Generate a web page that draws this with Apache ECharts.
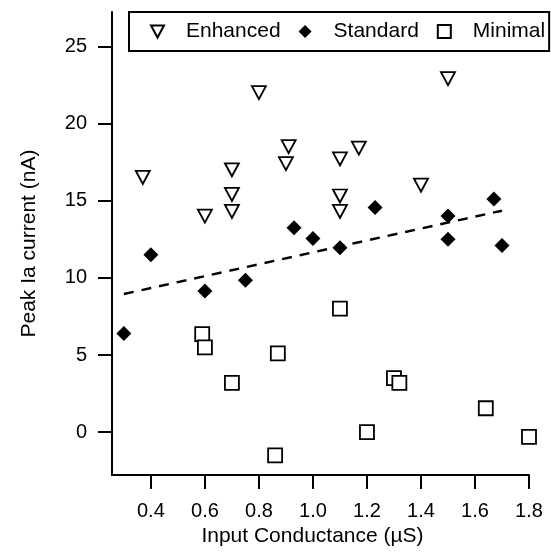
<!doctype html>
<html>
<head>
<meta charset="UTF-8">
<title>Peak Ia current vs input conductance</title>
<script src="https://cdn.jsdelivr.net/npm/echarts@6/dist/echarts.min.js"></script>
<style>
  html, body { margin: 0; padding: 0; background: #fff; }
  #chart { width: 551px; height: 552px; }
</style>
</head>
<body>
<div id="chart"></div>
<script>
// values: [conductance uS, peak current nA]
var enhanced = [
  [0.37, 16.5], [0.60, 14.0], [0.70, 17.0], [0.70, 15.4], [0.70, 14.3],
  [0.80, 22.0], [0.91, 18.5], [0.90, 17.4], [1.10, 17.7], [1.17, 18.4],
  [1.10, 15.3], [1.10, 14.3], [1.40, 16.0], [1.50, 22.9]
];
var standard = [
  [0.30, 6.4], [0.40, 11.5], [0.60, 9.15], [0.75, 9.85], [0.93, 13.25],
  [1.00, 12.55], [1.10, 11.95], [1.23, 14.55], [1.50, 14.0], [1.50, 12.5],
  [1.67, 15.1], [1.70, 12.1]
];
var minimal = [
  [0.59, 6.35], [0.60, 5.5], [0.87, 5.1], [0.70, 3.2], [0.86, -1.5],
  [1.10, 8.0], [1.30, 3.5], [1.32, 3.2], [1.20, 0.0], [1.64, 1.55],
  [1.80, -0.3]
];
var fitLine = [[0.30, 8.95], [1.70, 14.35]];
var xTicks = [0.4, 0.6, 0.8, 1.0, 1.2, 1.4, 1.6, 1.8];
var yTicks = [0, 5, 10, 15, 20, 25];

var font = 'Liberation Sans, Arial, Helvetica, sans-serif';
var downTriangle = 'path://M0,0L14,0L7,13Z';
var chart = echarts.init(document.getElementById('chart'));

chart.setOption({
  animation: false,
  textStyle: { fontFamily: font, color: '#000' },
  grid: { left: 112, right: 22, top: 12, bottom: 76, containLabel: false },
  legend: {
    left: 129,
    top: 12,
    width: 420,
    padding: [9, 4, 9, 21],
    itemWidth: 13,
    itemHeight: 13,
    itemGap: 18,
    symbolKeepAspect: true,
    borderColor: '#000',
    borderWidth: 2,
    textStyle: { fontFamily: font, fontSize: 21, color: '#000', padding: [0, 0, 0, 17] },
    data: [
      { name: 'Enhanced', icon: downTriangle },
      { name: 'Standard', icon: 'diamond' },
      { name: 'Minimal', icon: 'rect' }
    ]
  },
  xAxis: {
    type: 'value',
    min: 0.256,
    max: 1.8,
    name: 'Input Conductance (\u00b5S)',
    nameLocation: 'middle',
    nameGap: 50,
    nameTextStyle: { fontFamily: font, fontSize: 21, color: '#000', padding: [0, 16, 0, 0] },
    splitLine: { show: false },
    axisLine: { show: true, onZero: false, lineStyle: { color: '#000', width: 2 } },
    axisTick: { show: true, inside: false, length: 14, customValues: xTicks, lineStyle: { color: '#000', width: 2 } },
    axisLabel: {
      customValues: xTicks, margin: 26, fontSize: 20, color: '#000', fontFamily: font,
      formatter: function (v) { return v.toFixed(1); }
    }
  },
  yAxis: {
    type: 'value',
    min: -2.78,
    max: 27.22,
    name: 'Peak Ia current (nA)',
    nameLocation: 'middle',
    nameGap: 72,
    nameTextStyle: { fontFamily: font, fontSize: 21, color: '#000' },
    splitLine: { show: false },
    axisLine: { show: true, onZero: false, lineStyle: { color: '#000', width: 2 } },
    axisTick: { show: true, inside: false, length: 14, customValues: yTicks, lineStyle: { color: '#000', width: 2 } },
    axisLabel: { customValues: yTicks, margin: 25, fontSize: 20, color: '#000', fontFamily: font }
  },
  series: [
    {
      name: 'Enhanced',
      type: 'scatter',
      data: enhanced,
      symbol: 'triangle',
      symbolRotate: 180,
      symbolSize: [14, 13],
      itemStyle: { color: '#fff', borderColor: '#000', borderWidth: 1.8, opacity: 1 },
      z: 3
    },
    {
      name: 'Standard',
      type: 'scatter',
      data: standard,
      symbol: 'diamond',
      symbolSize: 15,
      itemStyle: { color: '#000', borderColor: '#000', borderWidth: 0, opacity: 1 },
      z: 3
    },
    {
      name: 'Minimal',
      type: 'scatter',
      data: minimal,
      symbol: 'rect',
      symbolSize: 14,
      itemStyle: { color: '#fff', borderColor: '#000', borderWidth: 1.8, opacity: 1 },
      z: 3
    },
    {
      name: 'fit',
      type: 'line',
      data: fitLine,
      symbol: 'none',
      silent: true,
      lineStyle: { color: '#000', width: 2.5, type: [10, 8] },
      z: 2
    }
  ]
});
</script>
</body>
</html>
